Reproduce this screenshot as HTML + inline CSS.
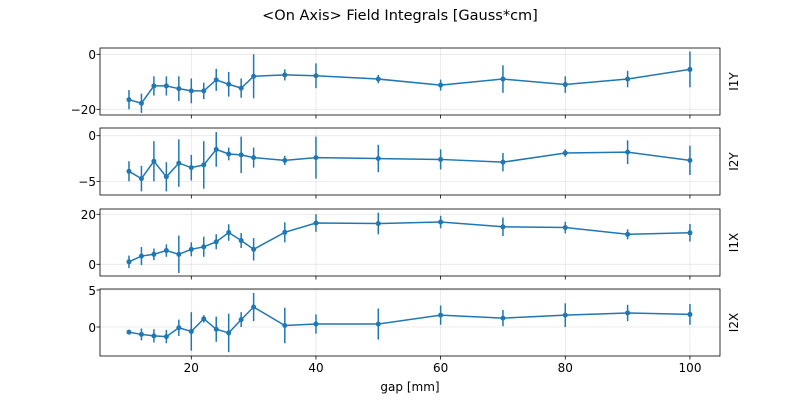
<!DOCTYPE html>
<html><head><meta charset="utf-8"><style>
body{margin:0;background:#fff}
svg text{font-family:"DejaVu Sans","Liberation Sans",sans-serif;font-size:12px;fill:#000}
</style></head><body>
<svg id="s" width="800" height="400" xmlns="http://www.w3.org/2000/svg">
<text x="400" y="20" text-anchor="middle" font-size="14.5" style="font-size:14.5px">&lt;On Axis&gt; Field Integrals [Gauss*cm]</text>
<g id="g"></g>
<text x="96" y="59" text-anchor="end">0</text>
<text x="96" y="114" text-anchor="end">−20</text>
<text x="96" y="140" text-anchor="end">0</text>
<text x="96" y="186" text-anchor="end">−5</text>
<text x="96" y="219" text-anchor="end">20</text>
<text x="96" y="269" text-anchor="end">0</text>
<text x="96" y="295" text-anchor="end">5</text>
<text x="96" y="332" text-anchor="end">0</text>
<text x="191.3" y="372" text-anchor="middle">20</text>
<text x="316" y="372" text-anchor="middle">40</text>
<text x="440.7" y="372" text-anchor="middle">60</text>
<text x="565.3" y="372" text-anchor="middle">80</text>
<text x="690" y="372" text-anchor="middle">100</text>
<text x="410" y="391" text-anchor="middle">gap [mm]</text>
<text transform="translate(738,81.5) rotate(-90)" text-anchor="middle">I1Y</text>
<text transform="translate(738,161.5) rotate(-90)" text-anchor="middle">I2Y</text>
<text transform="translate(738,242.5) rotate(-90)" text-anchor="middle">I1X</text>
<text transform="translate(738,322.5) rotate(-90)" text-anchor="middle">I2X</text>
</svg>
<script>
const X=[10,12,14,16,18,20,22,24,26,28,30,35,40,50,60,70,80,90,100];
const xp=v=>191.3+(v-20)*6.233;
const P=[
{t:48,b:115,y0:54.3,s:2.75,ticks:[0,-20],d:[[-16.5,3.5],[-17.8,3.5],[-11.5,3.5],[-11.5,3.5],[-12.5,4.5],[-13.3,4.5],[-13.3,3],[-9.3,4],[-10.9,4.5],[-12.3,3.5],[-8,8],[-7.5,2],[-7.8,4.5],[-9,1.5],[-11.2,2],[-9,5],[-11,3],[-9,3],[-5.5,6.5]]},
{t:128,b:195,y0:135.7,s:9.13,ticks:[0,-5],d:[[-3.9,1.1],[-4.7,1.4],[-2.8,2.2],[-4.5,1.6],[-3,2.6],[-3.5,1.4],[-3.2,2.6],[-1.5,1.9],[-2,0.7],[-2.1,2],[-2.4,1.1],[-2.7,0.5],[-2.4,2.3],[-2.5,1.5],[-2.6,1.1],[-2.9,1],[-1.9,0.4],[-1.8,1.3],[-2.7,1.6]]},
{t:209,b:276,y0:264.3,s:2.5,ticks:[0,20],d:[[1,2.5],[3.3,3.6],[4,2.3],[5.5,2.5],[4,7.5],[6,2.8],[7,4],[9,3],[12.7,3.3],[9.5,3],[6,4.5],[12.8,4],[16.5,3.5],[16.3,4.3],[16.9,2.5],[15,3.7],[14.7,2.3],[12,2],[12.6,3.5]]},
{t:289,b:356,y0:327,s:7.4,ticks:[0,5],d:[[-0.7,0.3],[-1,0.8],[-1.2,0.9],[-1.3,0.9],[-0.1,1.1],[-0.6,2.6],[1.1,0.5],[-0.3,1.7],[-0.8,2.6],[1,1],[2.7,1.9],[0.2,2.4],[0.4,1.3],[0.4,2.1],[1.6,1.3],[1.2,1.1],[1.6,1.6],[1.9,1.1],[1.7,1.4]]}];
let h='';const C='#1f77b4';
P.forEach(p=>{
 const yp=v=>p.y0-v*p.s;
 [20,40,60,80,100].forEach(v=>{h+=`<line x1="${xp(v)}" x2="${xp(v)}" y1="${p.t}" y2="${p.b}" stroke="#b0b0b0" stroke-opacity="0.3" stroke-width="0.8"/>`;
   h+=`<line x1="${xp(v)}" x2="${xp(v)}" y1="${p.b}" y2="${p.b+3.5}" stroke="#000" stroke-width="0.8"/>`;});
 p.ticks.forEach(v=>{h+=`<line x1="100" x2="720" y1="${yp(v)}" y2="${yp(v)}" stroke="#b0b0b0" stroke-opacity="0.3" stroke-width="0.8"/>`;
   h+=`<line x1="96.5" x2="100" y1="${yp(v)}" y2="${yp(v)}" stroke="#000" stroke-width="0.8"/>`;});
 p.d.forEach((d,i)=>{h+=`<line x1="${xp(X[i])}" x2="${xp(X[i])}" y1="${yp(d[0]-d[1])}" y2="${yp(d[0]+d[1])}" stroke="${C}" stroke-width="1.5"/>`;});
 h+=`<polyline fill="none" stroke="${C}" stroke-width="1.5" points="${p.d.map((d,i)=>xp(X[i])+','+yp(d[0])).join(' ')}"/>`;
 p.d.forEach((d,i)=>{h+=`<circle cx="${xp(X[i])}" cy="${yp(d[0])}" r="2.5" fill="${C}"/>`;});
 h+=`<rect x="100" y="${p.t}" width="620" height="${p.b-p.t}" fill="none" stroke="#000" stroke-width="0.8"/>`;
});
document.getElementById('g').innerHTML=h;
</script>
</body></html>
